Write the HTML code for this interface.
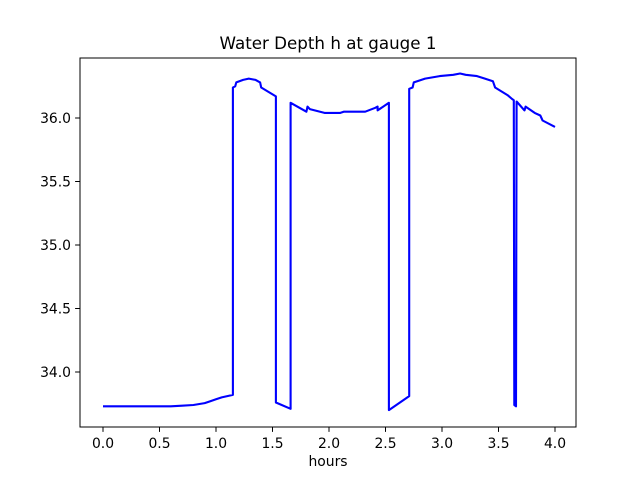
<!DOCTYPE html>
<html><head><meta charset="utf-8"><style>
body{margin:0;background:#fff}
svg text{font-family:"DejaVu Sans","Liberation Sans",sans-serif;fill:#000}
</style></head><body>
<svg id="c" width="640" height="480"></svg>
<script>
const xs=[0,0.6,0.7,0.8,0.9,0.95,1.0,1.05,1.15,1.15,1.17,1.18,1.24,1.29,1.35,1.39,1.40,1.53,1.53,1.66,1.66,1.80,1.81,1.83,1.96,2.10,2.13,2.32,2.41,2.43,2.43,2.53,2.53,2.71,2.71,2.74,2.75,2.85,2.98,3.10,3.16,3.21,3.31,3.38,3.45,3.47,3.58,3.62,3.635,3.64,3.655,3.66,3.73,3.74,3.82,3.87,3.89,4.0];
const ys=[33.73,33.73,33.735,33.74,33.755,33.77,33.785,33.80,33.82,36.24,36.25,36.28,36.30,36.31,36.30,36.28,36.24,36.17,33.76,33.71,36.12,36.05,36.09,36.07,36.04,36.04,36.05,36.05,36.08,36.09,36.06,36.12,33.70,33.81,36.23,36.24,36.28,36.31,36.33,36.34,36.35,36.34,36.33,36.31,36.29,36.24,36.18,36.15,36.14,33.74,33.73,36.13,36.06,36.09,36.04,36.02,35.98,35.93];
const xticks=[0,0.5,1,1.5,2,2.5,3,3.5,4];
const xtickLabels=["0.0","0.5","1.0","1.5","2.0","2.5","3.0","3.5","4.0"];
const yticks=[34,34.5,35,35.5,36];
const ytickLabels=["34.0","34.5","35.0","35.5","36.0"];
const L=80,R=576,T=58,B=427;
const X=v=>103+(v-0)*113;
const Y=v=>118-(v-36)*127;
const svg=document.getElementById('c');const NS='http://www.w3.org/2000/svg';
function mk(t,a,p){const e=document.createElementNS(NS,t);for(const k in a)e.setAttribute(k,a[k]);(p||svg).appendChild(e);return e;}
let d=xs.map((x,i)=>(i?'L':'M')+X(x).toFixed(1)+','+Y(ys[i]).toFixed(1)).join('');
const line=mk('path',{d:d,fill:'none',stroke:'#0000ff','stroke-width':2.1,'stroke-linejoin':'round'});


const fr=mk('rect',{x:L,y:T,width:R-L,height:B-T,fill:'none',stroke:'#000','stroke-width':1});


xticks.forEach((v,i)=>{const x=X(v);mk('line',{x1:x,x2:x,y1:B,y2:B+4.9,stroke:'#000'});
const t=mk('text',{x:x,y:B+21,'text-anchor':'middle','font-size':13.9});t.textContent=xtickLabels[i];

});
yticks.forEach((v,i)=>{const y=Y(v);mk('line',{x1:L,x2:L-4.9,y1:y,y2:y,stroke:'#000'});
const t=mk('text',{x:L-9,y:y+5,'text-anchor':'end','font-size':13.9});t.textContent=ytickLabels[i];

});
const xt=mk('text',{x:328,y:466,'text-anchor':'middle','font-size':13.9});xt.textContent='hours';


const tt=mk('text',{x:328,y:49,'text-anchor':'middle','font-size':16.7});tt.textContent='Water Depth h at gauge 1';


</script>
</body></html>
